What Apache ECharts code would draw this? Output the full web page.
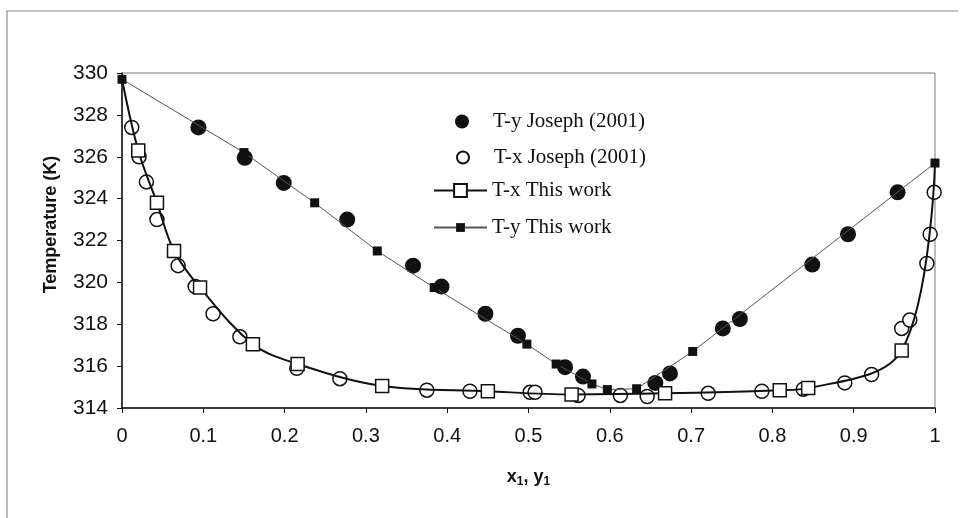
<!DOCTYPE html>
<html>
<head>
<meta charset="utf-8">
<script src="https://cdn.jsdelivr.net/npm/echarts@6/dist/echarts.min.js"></script>
<style>
  html, body { margin: 0; padding: 0; background: #fff; }
  #chart { width: 965px; height: 518px; }
</style>
</head>
<body>
<div id="chart"></div>
<script>
// Vapour–liquid equilibrium: boiling temperature vs. mole fraction of component 1

// Experimental dew points, T-y (Joseph 2001)
const tyJoseph = [
  [0.094, 327.4], [0.151, 325.95], [0.199, 324.75], [0.277, 323.0],
  [0.358, 320.8], [0.393, 319.8], [0.447, 318.5], [0.487, 317.45],
  [0.545, 315.95], [0.567, 315.5], [0.656, 315.2], [0.674, 315.65],
  [0.739, 317.8], [0.760, 318.25], [0.849, 320.85], [0.893, 322.3],
  [0.954, 324.3]
];

// Experimental bubble points, T-x (Joseph 2001)
const txJoseph = [
  [0.012, 327.4], [0.021, 326.0], [0.030, 324.8], [0.043, 323.0],
  [0.069, 320.8], [0.090, 319.8], [0.112, 318.5], [0.145, 317.4],
  [0.215, 315.9], [0.268, 315.4], [0.375, 314.85], [0.428, 314.8],
  [0.502, 314.75], [0.508, 314.75], [0.561, 314.6], [0.613, 314.6],
  [0.646, 314.55], [0.721, 314.7], [0.787, 314.8], [0.838, 314.9],
  [0.889, 315.2], [0.922, 315.6], [0.959, 317.8], [0.969, 318.2],
  [0.990, 320.9], [0.994, 322.3], [0.999, 324.3]
];

// Calculated bubble curve, T-x (this work); pure-component ends carry no marker
const txThisWork = [
  [0.0, 329.7], [0.020, 326.3], [0.043, 323.8], [0.064, 321.5],
  [0.096, 319.75], [0.161, 317.05], [0.216, 316.1], [0.320, 315.05],
  [0.450, 314.8], [0.553, 314.65], [0.668, 314.7], [0.809, 314.85],
  [0.844, 314.95], [0.959, 316.75], [1.0, 325.7]
];
const txEndpoints = [0, 14];

// Calculated dew curve, T-y (this work)
const tyThisWork = [
  [0.0, 329.7], [0.150, 326.2], [0.237, 323.8], [0.314, 321.5],
  [0.384, 319.75], [0.498, 317.05], [0.534, 316.1], [0.578, 315.15],
  [0.597, 314.88], [0.633, 314.92], [0.702, 316.7], [1.0, 325.7]
];

const seriesNames = ['T-y Joseph (2001)', 'T-x Joseph (2001)', 'T-x This work', 'T-y This work'];
const xTickLabels = ['0', '0.1', '0.2', '0.3', '0.4', '0.5', '0.6', '0.7', '0.8', '0.9', '1'];
const yTickLabels = ['314', '316', '318', '320', '322', '324', '326', '328', '330'];

const INK = '#111';
const sansFont = '"Liberation Sans", Arial, sans-serif';
const serifFont = '"Liberation Serif", "Times New Roman", serif';

const chart = echarts.init(document.getElementById('chart'), null, { renderer: 'canvas' });

function legendRow(name, left, top, itemWidth, itemHeight) {
  return {
    data: [name],
    orient: 'vertical',
    left: left,
    top: top,
    itemWidth: itemWidth,
    itemHeight: itemHeight,
    itemGap: 0,
    padding: 0,
    selectedMode: false,
    textStyle: { fontFamily: serifFont, fontSize: 21, color: INK }
  };
}

const option = {
  backgroundColor: '#fff',
  animation: false,
  graphic: [
    {
      type: 'polyline',
      shape: { points: [[7, 530], [7, 11], [958, 11]] },
      style: { stroke: '#8a8a8a', lineWidth: 1.2, fill: null },
      silent: true
    }
  ],
  legend: [
    legendRow(seriesNames[0], 455, 111, 52, 14),
    legendRow(seriesNames[1], 456, 147, 52, 12),
    legendRow(seriesNames[2], 433, 180, 53, 16),
    legendRow(seriesNames[3], 433, 217, 53, 11)
  ],
  grid: {
    left: 122, right: 30, top: 73, bottom: 110,
    show: true, borderColor: '#7a7a7a', borderWidth: 1
  },
  xAxis: {
    type: 'value',
    min: 0, max: 1, interval: 0.1,
    name: '{i|x}{s|1}{i|, y}{s|1}',
    nameLocation: 'middle',
    nameGap: 58,
    nameTextStyle: {
      rich: {
        i: { fontFamily: sansFont, fontSize: 18, fontWeight: 'bold', color: INK },
        s: { fontFamily: sansFont, fontSize: 12, fontWeight: 'bold', color: INK, verticalAlign: 'bottom', padding: [10, 0, 0, 0] }
      }
    },
    axisLine: { lineStyle: { color: INK, width: 1.5 } },
    axisTick: { show: true, length: 5, lineStyle: { color: INK, width: 1 } },
    axisLabel: {
      margin: 18,
      fontFamily: sansFont, fontSize: 20, color: INK,
      formatter: v => xTickLabels[Math.round(v * 10)]
    },
    splitLine: { show: false }
  },
  yAxis: {
    type: 'value',
    min: 314, max: 330, interval: 2,
    name: 'Temperature (K)',
    nameLocation: 'middle',
    nameGap: 62,
    nameTextStyle: {
      fontFamily: sansFont, fontSize: 18, fontWeight: 'bold', color: INK,
      padding: [0, 0, 0, 32]
    },
    axisLine: { show: true, lineStyle: { color: INK, width: 1.5 } },
    axisTick: { show: true, length: 5, lineStyle: { color: INK, width: 1 } },
    axisLabel: {
      margin: 14,
      fontFamily: sansFont, fontSize: 21, color: INK,
      formatter: v => yTickLabels[Math.round((v - 314) / 2)]
    },
    splitLine: { show: false }
  },
  series: [
    {
      name: seriesNames[0],
      type: 'scatter',
      data: tyJoseph,
      symbol: 'circle',
      symbolSize: 16,
      itemStyle: { color: INK, opacity: 1 },
      z: 2
    },
    {
      name: seriesNames[1],
      type: 'scatter',
      data: txJoseph,
      symbol: 'circle',
      symbolSize: 14,
      itemStyle: { color: '#fff', borderColor: INK, borderWidth: 1.5, opacity: 1 },
      z: 3
    },
    {
      name: seriesNames[2],
      type: 'line',
      data: txThisWork.map((p, i) => txEndpoints.includes(i) ? { value: p, symbol: 'none' } : p),
      smooth: 0.35,
      symbol: 'rect',
      symbolSize: 13,
      showSymbol: true,
      lineStyle: { color: INK, width: 2 },
      itemStyle: { color: '#fff', borderColor: INK, borderWidth: 1.5 },
      z: 4
    },
    {
      name: seriesNames[3],
      type: 'line',
      data: tyThisWork,
      symbol: 'rect',
      symbolSize: 9,
      showSymbol: true,
      lineStyle: { color: '#555', width: 1 },
      itemStyle: { color: INK },
      z: 5
    }
  ]
};

chart.setOption(option);
</script>
</body>
</html>
